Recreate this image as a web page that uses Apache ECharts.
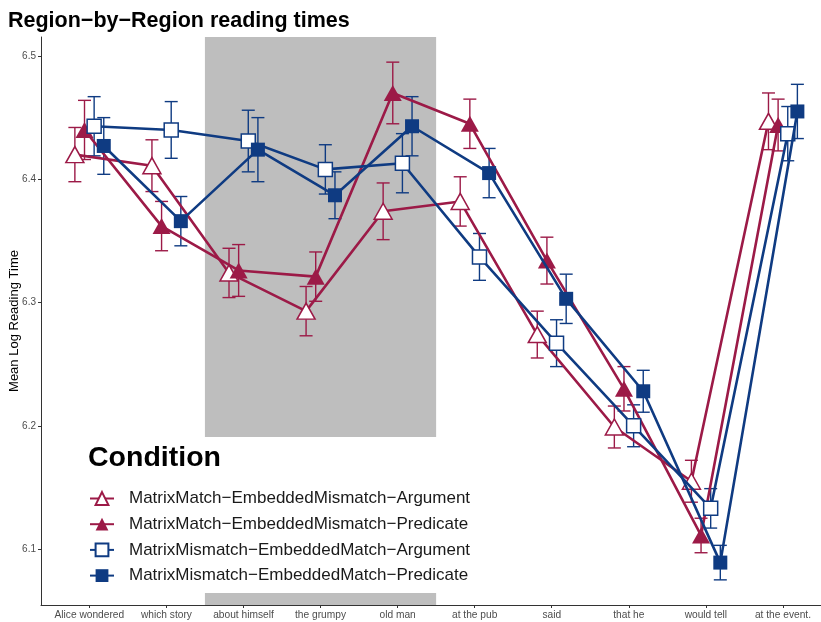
<!DOCTYPE html>
<html>
<head>
<meta charset="utf-8">
<script src="https://cdn.jsdelivr.net/npm/echarts@6/dist/echarts.min.js"></script>
<style>html,body{margin:0;padding:0;background:#fff}#c{width:821px;height:622px}</style>
</head>
<body>
<div id="c"></div>
<script>
const categories = ['Alice wondered','which story','about himself','the grumpy','old man','at the pub','said','that he','would tell','at the event.'];
const yTicks = [6.1, 6.2, 6.3, 6.4, 6.5];
const seriesNames = [
  'MatrixMatch\u2212EmbeddedMismatch\u2212Argument',
  'MatrixMatch\u2212EmbeddedMismatch\u2212Predicate',
  'MatrixMismatch\u2212EmbeddedMatch\u2212Argument',
  'MatrixMismatch\u2212EmbeddedMatch\u2212Predicate'
];
const mmArgMean  = [6.420, 6.411, 6.324, 6.293, 6.374, 6.382, 6.274, 6.199, 6.155, 6.447];
const mmArgErr   = [0.022, 0.021, 0.020, 0.020, 0.023, 0.020, 0.019, 0.017, 0.017, 0.023];
const mmPredMean = [6.440, 6.362, 6.326, 6.321, 6.470, 6.445, 6.334, 6.230, 6.111, 6.444];
const mmPredErr  = [0.024, 0.020, 0.021, 0.020, 0.025, 0.020, 0.019, 0.018, 0.014, 0.021];
const miArgMean  = [6.443, 6.440, 6.431, 6.408, 6.413, 6.337, 6.267, 6.200, 6.133, 6.437];
const miArgErr   = [0.024, 0.023, 0.025, 0.020, 0.024, 0.019, 0.019, 0.017, 0.016, 0.022];
const miPredMean = [6.427, 6.366, 6.424, 6.387, 6.443, 6.405, 6.303, 6.228, 6.089, 6.455];
const miPredErr  = [0.023, 0.020, 0.026, 0.019, 0.024, 0.020, 0.020, 0.017, 0.014, 0.022];
const shadedRegion = [3, 5]; // categories "about himself" .. "old man"

const means = [mmArgMean, mmPredMean, miArgMean, miPredMean];
const errs = [mmArgErr, mmPredErr, miArgErr, miPredErr];
const dodge = [-0.1875, -0.0625, 0.0625, 0.1875];
const crimson = '#9C1A47', navy = '#0F3B82';
const colors = [crimson, crimson, navy, navy];
const filled = [false, true, false, true];
const symbols = ['triangle', 'triangle', 'rect', 'rect'];
const symSizes = [[18, 16], [18, 16], [14, 14], [14, 14]];
const FONT = 'Liberation Sans, Arial, Helvetica, sans-serif';
const yMin = 6.0546, yMax = 6.5154, xMin = 0.373, xMax = 10.494;

const chart = echarts.init(document.getElementById('c'), null, {renderer: 'canvas'});
const series = [];
means.forEach((m, s) => {
  series.push({
    type: 'custom',
    name: 'errorbar-' + s,
    color: colors[s],
    z: 2,
    silent: true,
    data: m.map((v, i) => [i + 1 + dodge[s], v - errs[s][i], v + errs[s][i]]),
    renderItem: function (params, api) {
      const x = api.value(0);
      const lo = api.coord([x, api.value(1)]);
      const hi = api.coord([x, api.value(2)]);
      const hw = 6.5;
      const st = {stroke: colors[s], lineWidth: 1.4, fill: null};
      return {type: 'group', children: [
        {type: 'line', shape: {x1: lo[0], y1: lo[1], x2: hi[0], y2: hi[1]}, style: st},
        {type: 'line', shape: {x1: lo[0] - hw, y1: lo[1], x2: lo[0] + hw, y2: lo[1]}, style: st},
        {type: 'line', shape: {x1: hi[0] - hw, y1: hi[1], x2: hi[0] + hw, y2: hi[1]}, style: st}
      ]};
    }
  });
});
means.forEach((m, s) => {
  const ser = {
    type: 'line',
    name: seriesNames[s],
    color: colors[s],
    z: 3 + s,
    data: m.map((v, i) => [i + 1 + dodge[s], v]),
    symbol: symbols[s],
    symbolSize: symSizes[s],
    showAllSymbol: true,
    lineStyle: {color: colors[s], width: 2.6},
    itemStyle: {color: filled[s] ? colors[s] : '#ffffff', borderColor: colors[s], borderWidth: filled[s] ? 0 : 1.5},
    emphasis: {disabled: true},
    animation: false
  };
  if (s === 0) {
    ser.markArea = {
      silent: true,
      itemStyle: {color: '#BEBEBE'},
      data: [[{xAxis: shadedRegion[0] - 0.5, yAxis: yMin}, {xAxis: shadedRegion[1] + 0.5, yAxis: yMax}]]
    };
  }
  series.push(ser);
});

chart.setOption({
  animation: false,
  backgroundColor: '#ffffff',
  textStyle: {fontFamily: FONT},
  title: {
    text: 'Region\u2212by\u2212Region reading times',
    left: 3, top: 5,
    textStyle: {fontFamily: FONT, fontSize: 21.5, fontWeight: 'bold', color: '#000'}
  },
  grid: {left: 41, right: 0, top: 37, bottom: 17, containLabel: false, outerBoundsMode: 'none'},
  xAxis: {
    type: 'value', min: xMin, max: xMax,
    splitLine: {show: false},
    axisLine: {show: true, lineStyle: {color: '#333', width: 1}},
    axisTick: {show: true, length: 3, lineStyle: {color: '#333'}, customValues: categories.map((c, i) => i + 1)},
    axisLabel: {
      show: true, fontSize: 10.2, color: '#4D4D4D', margin: 5, fontFamily: FONT,
      customValues: categories.map((c, i) => i + 1),
      formatter: v => categories[Math.round(v) - 1] || ''
    }
  },
  yAxis: {
    type: 'value', min: yMin, max: yMax,
    name: 'Mean Log Reading Time', nameLocation: 'middle', nameGap: 20,
    nameMoveOverlap: false,
    nameTextStyle: {fontSize: 13, color: '#000', fontFamily: FONT},
    splitLine: {show: false},
    axisLine: {show: true, lineStyle: {color: '#333', width: 1}},
    axisTick: {show: true, length: 3, lineStyle: {color: '#333'}, customValues: yTicks},
    axisLabel: {
      show: true, fontSize: 10, color: '#4D4D4D', margin: 5, fontFamily: FONT,
      customValues: yTicks,
      formatter: v => v.toFixed(1)
    }
  },
  legend: {
    show: true,
    orient: 'vertical',
    left: 84, top: 485,
    padding: 5,
    z: 10,
    itemWidth: 24, itemHeight: 16, itemGap: 8.7,
    data: seriesNames.map(n => ({name: n})),
    textStyle: {fontSize: 17, color: '#1a1a1a', fontFamily: FONT, padding: [0, 0, 0, 10]},
    selectedMode: false
  },
  graphic: [
    {type: 'rect', z: 8, shape: {x: 78, y: 437, width: 414, height: 156}, style: {fill: '#ffffff'}},
    {type: 'text', z: 9, left: 88, top: 444, style: {text: 'Condition', font: 'bold 28.5px ' + FONT, fill: '#000'}}
  ],
  series: series
});
</script>
</body>
</html>
